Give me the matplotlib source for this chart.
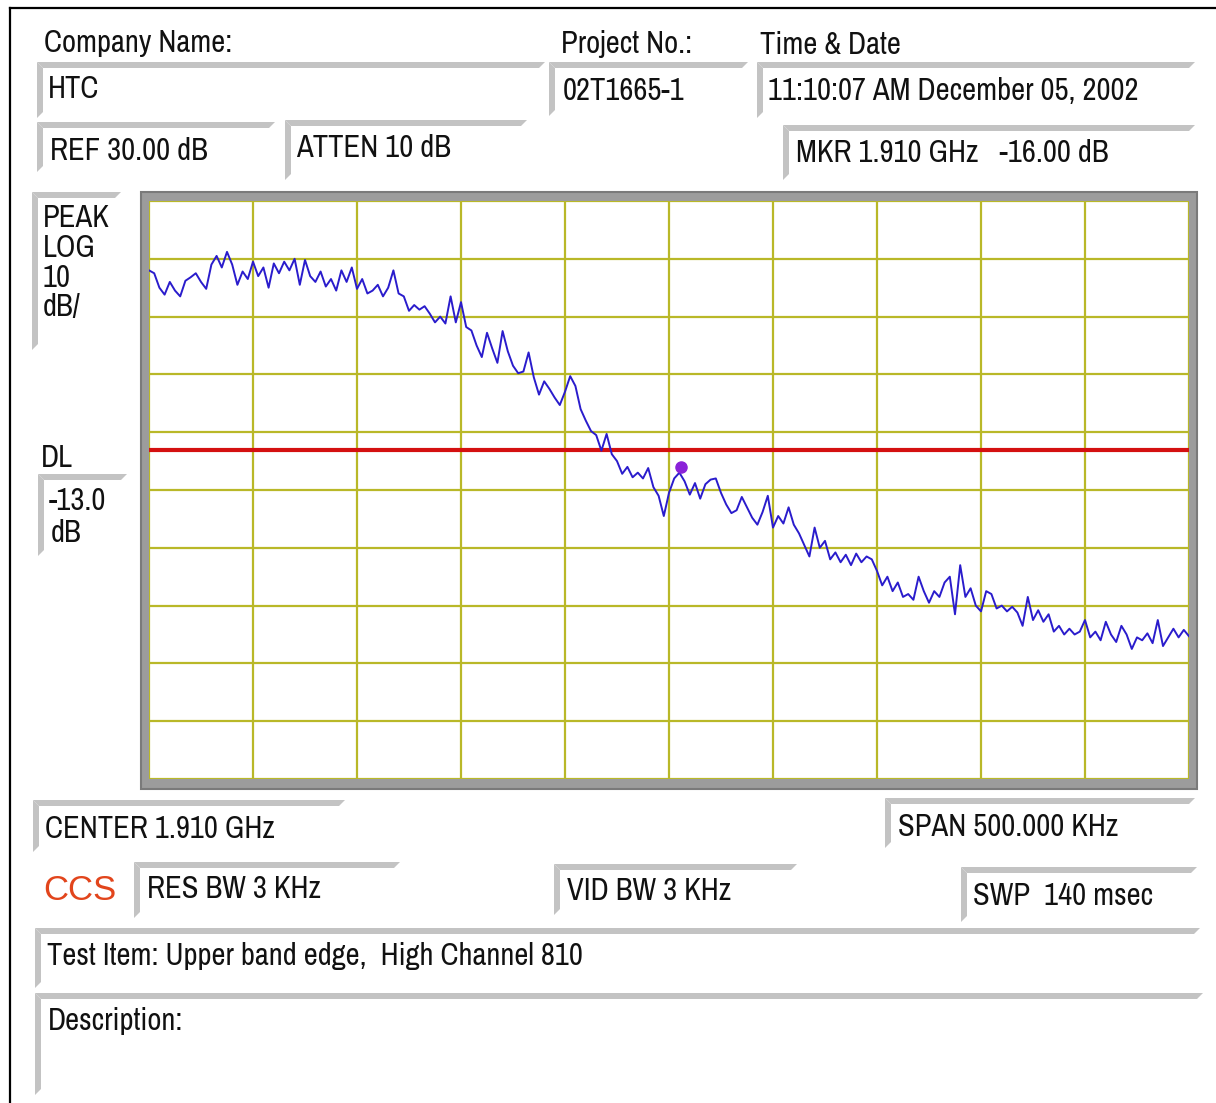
import numpy as np
import matplotlib
matplotlib.use('Agg')
import matplotlib.pyplot as plt
from matplotlib.patches import Polygon, Rectangle

plt.rcParams['font.family'] = ['Archivo Narrow', 'Roboto Condensed', 'DejaVu Sans']

# --- analyzer settings ---
REF_DB = 30.0
DB_PER_DIV = 10.0
SPAN_KHZ = 500.0
DISPLAY_LINE_DB = -13.0
MKR_OFFSET_KHZ = 5.8
MKR_DB = -16.0

# trace levels (dB), one per 2.5 kHz sweep point
trace_db = [
    18.0, 17.5, 15.0, 13.8, 16.0, 14.5, 13.5, 16.2, 16.8, 17.5,
    16.0, 14.8, 19.0, 20.5, 18.5, 21.2, 19.0, 15.5, 17.8, 16.5,
    19.5, 17.0, 18.5, 15.0, 19.2, 17.5, 19.5, 18.0, 20.0, 15.5,
    19.8, 17.0, 16.0, 17.8, 15.2, 16.5, 14.5, 18.0, 16.0, 18.5,
    14.8, 16.5, 14.0, 14.5, 15.5, 13.5, 15.0, 18.0, 14.0, 13.5,
    11.0, 12.0, 11.2, 11.8, 10.5, 9.0, 10.0, 8.8, 13.5, 9.0,
    12.5, 8.2, 7.6, 5.0, 3.0, 7.2, 4.5, 2.0, 7.5, 4.0,
    1.5, 0.2, 0.5, 3.8, -0.5, -3.5, -1.2, -2.5, -4.0, -5.3,
    -3.0, -0.3, -2.0, -6.0, -8.0, -9.8, -10.5, -13.2, -10.3, -13.8,
    -15.0, -17.2, -16.0, -17.8, -17.0, -18.0, -16.2, -19.5, -21.0, -24.5,
    -20.5, -18.0, -17.0, -18.5, -20.8, -18.8, -21.5, -19.0, -18.2, -18.0,
    -20.5, -22.5, -24.0, -23.5, -21.2, -23.0, -24.8, -26.0, -23.8, -21.0,
    -26.5, -24.5, -25.8, -23.0, -26.0, -27.5, -29.5, -31.5, -26.5, -30.0,
    -28.8, -32.0, -30.8, -32.5, -31.2, -33.0, -31.0, -32.5, -31.5, -32.0,
    -34.0, -36.5, -35.0, -37.5, -36.0, -38.5, -38.0, -39.0, -35.0, -37.5,
    -39.5, -37.5, -38.5, -36.0, -35.0, -41.5, -33.0, -38.5, -37.0, -40.0,
    -41.0, -37.5, -38.0, -40.5, -40.0, -41.0, -40.2, -41.2, -43.5, -38.5,
    -42.5, -40.8, -42.8, -41.5, -44.5, -43.5, -45.0, -44.0, -45.0, -44.5,
    -42.5, -45.5, -44.5, -46.0, -42.8, -45.0, -46.3, -43.5, -45.0, -47.5,
    -45.5, -46.0, -44.8, -46.5, -42.5, -47.0, -45.5, -44.0, -45.5, -44.2,
    -45.3,
]

# sweep points across the span, relative to centre (kHz)
freq_khz = np.linspace(-SPAN_KHZ / 2, SPAN_KHZ / 2, len(trace_db))

W, H = 1216, 1103
fig = plt.figure(figsize=(W / 100, H / 100), dpi=100)

# background layer in pixel coordinates for the form around the plot
bg = fig.add_axes([0, 0, 1, 1])
bg.set_xlim(0, W)
bg.set_ylim(H, 0)
bg.axis('off')

bg.plot([10, W], [8, 8], color='black', lw=1.6)
bg.plot([10, 10], [8, H], color='black', lw=1.6)


def bevel(x0, y0, x1, y1, t=6):
    top = Polygon([(x0, y0), (x1, y0), (x1 - t, y0 + t), (x0 + t, y0 + t)],
                  closed=True, facecolor='#c3c3c3', edgecolor='none')
    left = Polygon([(x0, y0), (x0 + t, y0 + t), (x0 + t, y1 - t), (x0, y1)],
                   closed=True, facecolor='#c3c3c3', edgecolor='none')
    bg.add_patch(top)
    bg.add_patch(left)


boxes = [
    (37, 62, 545, 118), (549, 62, 748, 116), (757, 62, 1195, 118),
    (37, 122, 275, 172), (285, 120, 527, 180), (783, 125, 1195, 180),
    (32, 192, 121, 350), (38, 474, 127, 556),
    (33, 800, 345, 852), (885, 798, 1195, 848),
    (134, 862, 400, 918), (554, 864, 797, 915), (961, 867, 1197, 922),
    (35, 928, 1200, 988), (35, 993, 1203, 1095),
]
for b in boxes:
    bevel(*b)

labels = [
    (44, 52, 'Company Name:'), (48, 98, 'HTC'),
    (561, 53, 'Project No.:'), (563, 100, '02T1665-1'),
    (760, 54, 'Time & Date'), (768, 100, '11:10:07 AM December 05, 2002'),
    (50, 160, 'REF 30.00 dB'), (296, 157, 'ATTEN 10 dB'),
    (796, 162, 'MKR 1.910 GHz   -16.00 dB'),
    (43, 227, 'PEAK'), (43, 257, 'LOG'), (43, 287, '10'), (43, 316, 'dB/'),
    (41, 467, 'DL'), (49, 510, '-13.0'), (51, 542, 'dB'),
    (45, 838, 'CENTER 1.910 GHz'), (898, 836, 'SPAN 500.000 KHz'),
    (147, 898, 'RES BW 3 KHz'), (567, 900, 'VID BW 3 KHz'),
    (973, 905, 'SWP  140 msec'),
    (47, 965, 'Test Item: Upper band edge,  High Channel 810'),
    (48, 1030, 'Description:'),
]
for x, y, s in labels:
    bg.text(x, y, s, fontsize=22, color='#111111', va='baseline', ha='left')

bg.text(43, 900, 'CCS', fontsize=25, color='#e2451c', va='baseline', ha='left',
        family=['Liberation Sans', 'DejaVu Sans'])

# grey frame around the screen
bg.add_patch(Rectangle((141, 192), 1056, 597, facecolor='#9c9c9c', edgecolor='#7a7a7a', lw=1.5))

# --- analyzer screen ---
ax = fig.add_axes([149 / W, 1 - 779 / H, 1040 / W, 578 / H])
ax.set_facecolor('white')
ax.set_xlim(-SPAN_KHZ / 2, SPAN_KHZ / 2)
ax.set_ylim(REF_DB - 10 * DB_PER_DIV, REF_DB)
ax.set_xticks(np.arange(-SPAN_KHZ / 2, SPAN_KHZ / 2 + 1, SPAN_KHZ / 10))
ax.set_yticks(np.arange(REF_DB - 10 * DB_PER_DIV, REF_DB + 1, DB_PER_DIV))
ax.grid(True, color='#b9b828', lw=1.6)
ax.tick_params(length=0, labelbottom=False, labelleft=False)
for sp in ax.spines.values():
    sp.set_visible(False)

ax.axhline(DISPLAY_LINE_DB, color='#d41010', lw=3.0, zorder=3)
ax.plot(freq_khz, trace_db, color='#2a1ccc', lw=1.4, zorder=4)
ax.plot([MKR_OFFSET_KHZ], [MKR_DB], 'o', color='#8a22d8', ms=8, zorder=5)

fig.savefig('out.png', dpi=100)
